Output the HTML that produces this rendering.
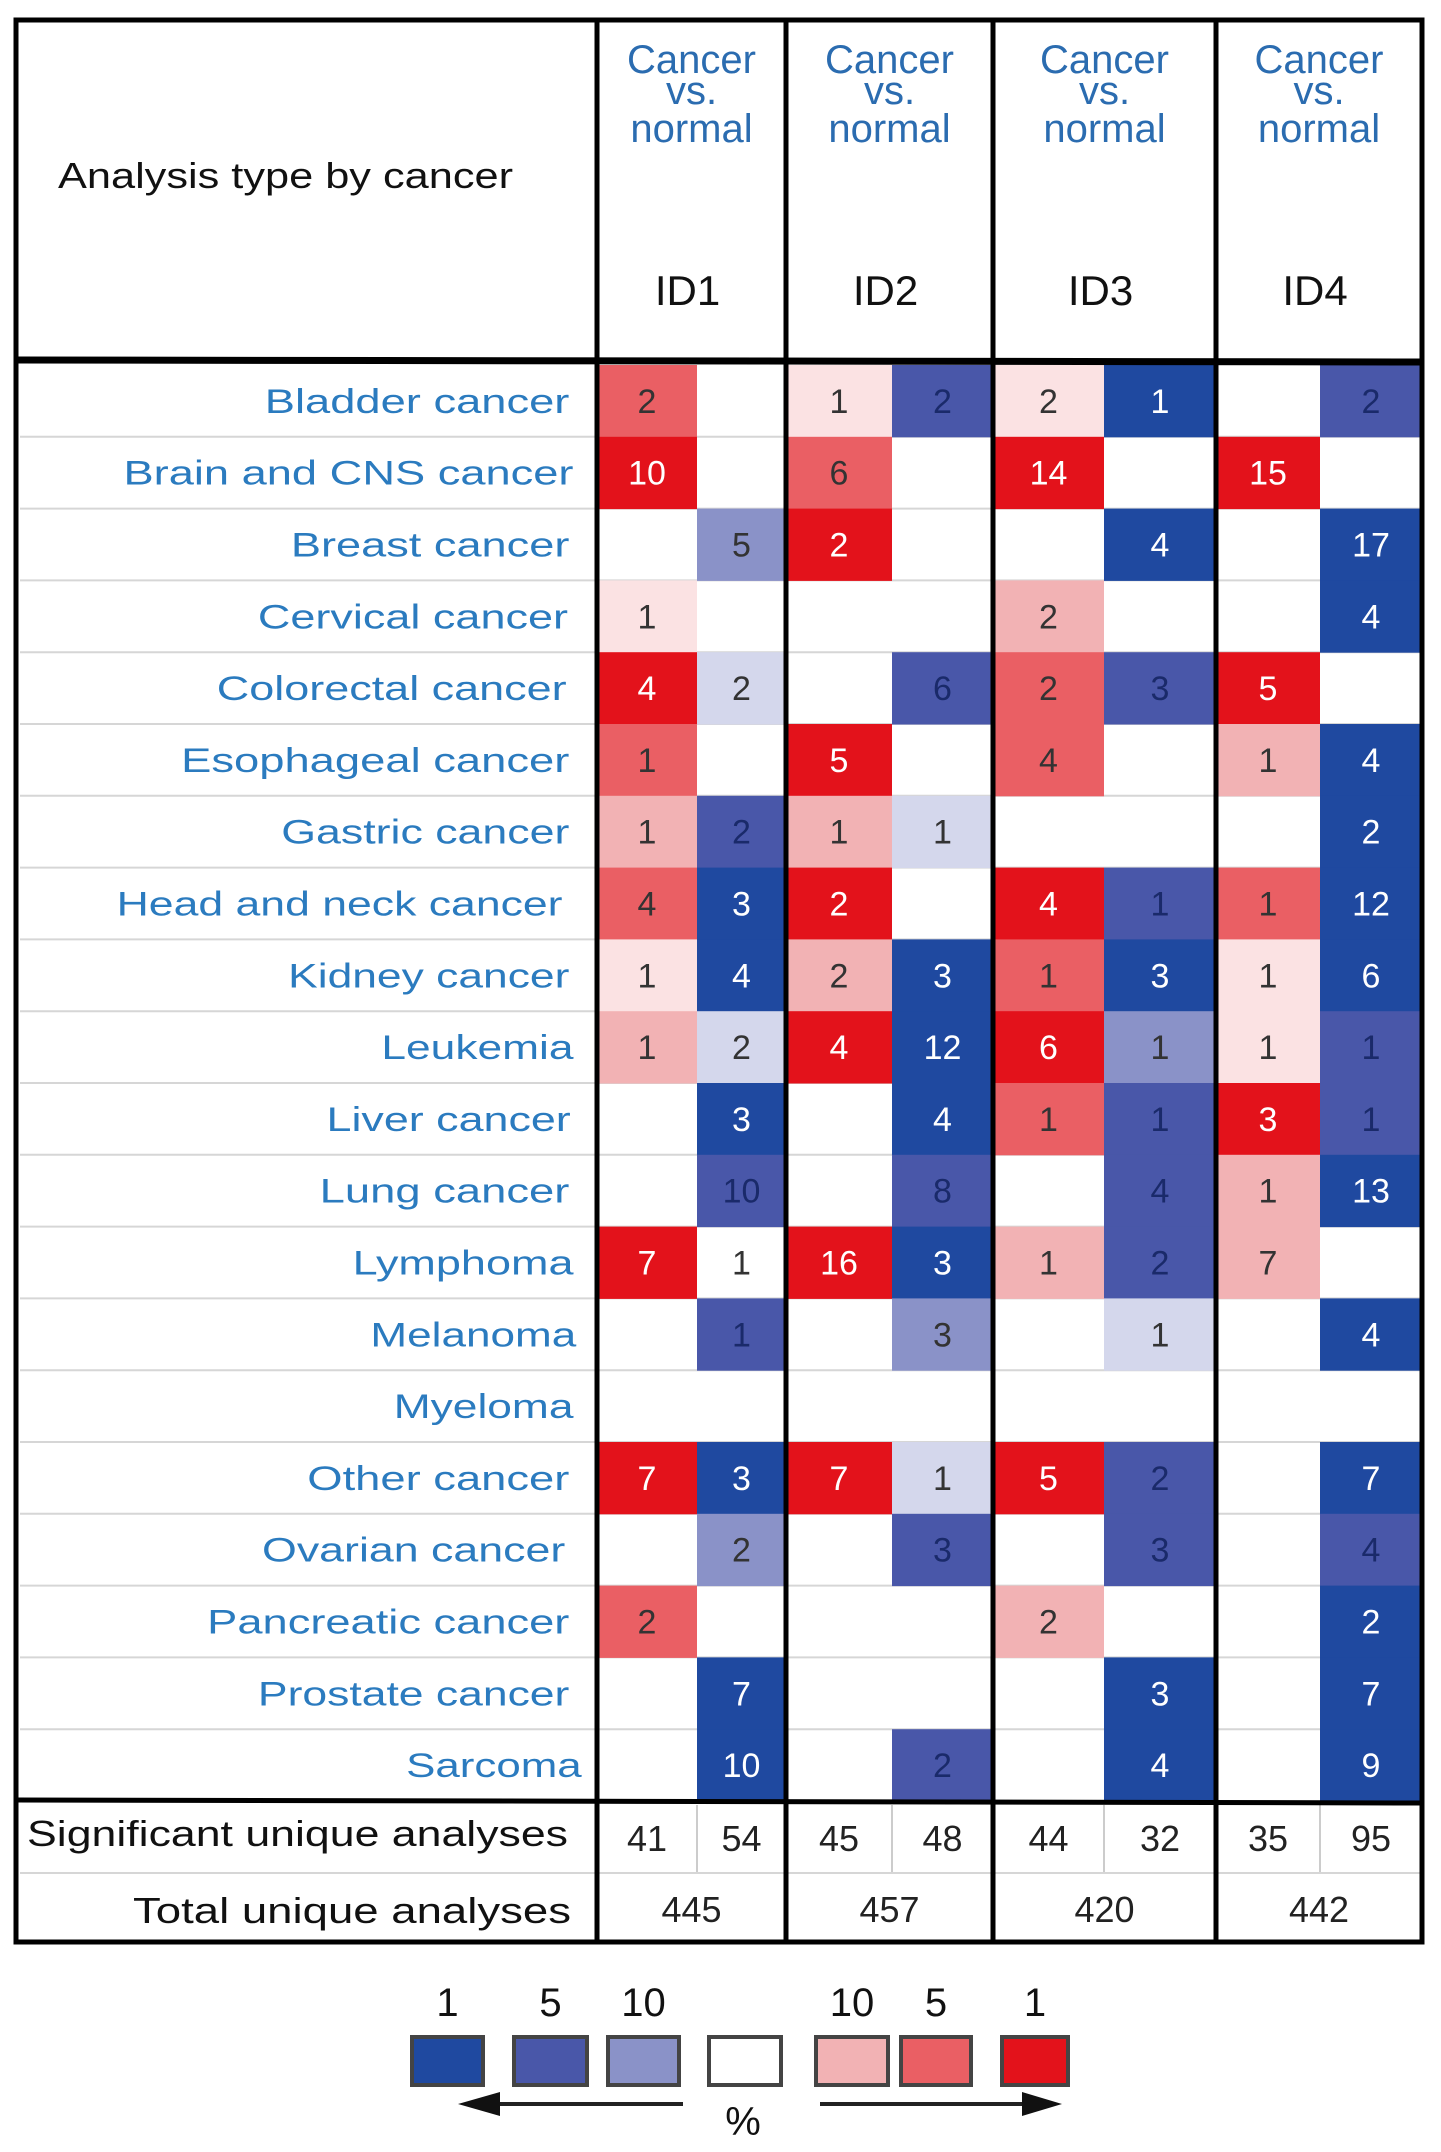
<!DOCTYPE html>
<html><head><meta charset="utf-8"><style>
html,body{margin:0;padding:0;background:#fff;}
svg{display:block;}
</style></head><body>
<svg id="chart" width="1441" height="2152" viewBox="0 0 1441 2152" xmlns="http://www.w3.org/2000/svg" font-family="Liberation Sans, sans-serif"></svg>
<script>
const cancers = ["Bladder cancer","Brain and CNS cancer","Breast cancer","Cervical cancer","Colorectal cancer","Esophageal cancer","Gastric cancer","Head and neck cancer","Kidney cancer","Leukemia","Liver cancer","Lung cancer","Lymphoma","Melanoma","Myeloma","Other cancer","Ovarian cancer","Pancreatic cancer","Prostate cancer","Sarcoma"];
const studies = ["ID1","ID2","ID3","ID4"];
// values per row: [ID1 up, ID1 down, ID2 up, ID2 down, ID3 up, ID3 down, ID4 up, ID4 down]; null = empty
const cellValues = [
[2,null,1,2,2,1,null,2],
[10,null,6,null,14,null,15,null],
[null,5,2,null,null,4,null,17],
[1,null,null,null,2,null,null,4],
[4,2,null,6,2,3,5,null],
[1,null,5,null,4,null,1,4],
[1,2,1,1,null,null,null,2],
[4,3,2,null,4,1,1,12],
[1,4,2,3,1,3,1,6],
[1,2,4,12,6,1,1,1],
[null,3,null,4,1,1,3,1],
[null,10,null,8,null,4,1,13],
[7,1,16,3,1,2,7,null],
[null,1,null,3,null,1,null,4],
[null,null,null,null,null,null,null,null],
[7,3,7,1,5,2,null,7],
[null,2,null,3,null,3,null,4],
[2,null,null,null,2,null,null,2],
[null,7,null,null,null,3,null,7],
[null,10,null,2,null,4,null,9]];
// shade level 0-4 (0 white, 4 strongest)
const cellLevels = [
[3,0,1,3,1,4,0,3],
[4,0,3,0,4,0,4,0],
[0,2,4,0,0,4,0,4],
[1,0,0,0,2,0,0,4],
[4,1,0,3,3,3,4,0],
[3,0,4,0,3,0,2,4],
[2,3,2,1,0,0,0,4],
[3,4,4,0,4,3,3,4],
[1,4,2,4,3,4,1,4],
[2,1,4,4,4,2,1,3],
[0,4,0,4,3,3,4,3],
[0,3,0,3,0,3,2,4],
[4,0,4,4,2,3,2,0],
[0,3,0,2,0,1,0,4],
[0,0,0,0,0,0,0,0],
[4,4,4,1,4,3,0,4],
[0,2,0,3,0,3,0,3],
[3,0,0,0,2,0,0,4],
[0,4,0,0,0,4,0,4],
[0,4,0,3,0,4,0,4]];
const sigUp = [41,45,44,35];
const sigDown = [54,48,32,95];
const totals = [445,457,420,442];
const legendLabels = ["1","5","10","","10","5","1"];

const RED=["#ffffff","#fbe2e3","#f2b2b4","#ea5f64","#e3121b"];
const BLUE=["#ffffff","#d4d7ec","#8a92c8","#4957a9","#1f49a0"];
const svg=document.getElementById('chart');
const NS="http://www.w3.org/2000/svg";
function mk(tag,attrs,parent){const e=document.createElementNS(NS,tag);for(const k in attrs)e.setAttribute(k,attrs[k]);(parent||svg).appendChild(e);return e;}

const colL=[597,786,993,1216], colR=[786,993,1216,1422], colS=[697,892,1104,1320];
const rowTop=365, rowH=(1801-365)/20;
function rowY(i){return rowTop+i*rowH;}
const labelLeft=[193,90,212,188,158,132,205,85,210,278,238,233,257,270,287,224,191,151,188,296];
const labelRight=[415,418,415,414,413,415,415,410,415,418,416,415,418,420,418,415,412,415,415,424];

// row separators
for(let i=1;i<=20;i++){
  const l=mk('line',{x1:20,x2:1420,y1:rowY(i),y2:rowY(i),stroke:'#d6d6d6','stroke-width':2});
  
  
}
// cells
cancers.forEach((c,i)=>{
  const t=mk('text',{x:labelRight[i]*1.372,y:rowY(i)+rowH/2+12,'text-anchor':'end','font-size':34,fill:'#2b7bbf',textLength:(labelRight[i]-labelLeft[i])*1.372,lengthAdjust:'spacingAndGlyphs'});
  t.textContent=c;
  
  
  for(let s=0;s<4;s++){
    for(let d=0;d<2;d++){
      const k=s*2+d, v=cellValues[i][k], lv=cellLevels[i][k];
      const x0=d===0?colL[s]:colS[s], x1=d===0?colS[s]:colR[s];
      if(lv>0){
        const r=mk('rect',{x:x0,y:rowY(i),width:x1-x0,height:rowH+0.5,fill:(d===0?RED:BLUE)[lv]});
        
        
      }
      if(v!==null){
        const col=lv===4?'#ffffff':(d===1&&lv===3?'#1a2a6a':'#333333');
        const tt=mk('text',{x:(x0+x1)/2,y:rowY(i)+rowH/2+12,'text-anchor':'middle','font-size':34,fill:col});
        tt.textContent=v;
        
        
      }
    }
  }
});
// header
const ht=mk('text',{x:58,y:188,'font-size':36,fill:'#111',textLength:455,lengthAdjust:'spacingAndGlyphs'});
ht.textContent='Analysis type by cancer';


studies.forEach((s,j)=>{
  const cx=(colL[j]+colR[j])/2;
  [['Cancer',73],['vs.',104],['normal',142]].forEach(([w,y])=>{
    const t=mk('text',{x:cx,y:y,'text-anchor':'middle','font-size':40,fill:'#2b6cb0'});
    t.textContent=w;
    
    
  });
  const id=mk('text',{x:cx-4,y:305,'text-anchor':'middle','font-size':42,fill:'#111'});
  id.textContent=s;
  
  
  // sig row
  [[sigUp[j],(colL[j]+colS[j])/2],[sigDown[j],(colS[j]+colR[j])/2]].forEach(([v,x])=>{
    const t=mk('text',{x:x,y:1851,'text-anchor':'middle','font-size':36,fill:'#222'});
    t.textContent=v;
    
    
  });
  const tt=mk('text',{x:cx,y:1922,'text-anchor':'middle','font-size':36,fill:'#222'});
  tt.textContent=totals[j];
  
  
  mk('line',{x1:colS[j],x2:colS[j],y1:1805,y2:1873,stroke:'#cccccc','stroke-width':2});
});
const sg=mk('text',{x:27,y:1846,'font-size':36,fill:'#111',textLength:541,lengthAdjust:'spacingAndGlyphs'});
sg.textContent='Significant unique analyses';


const tl=mk('text',{x:133,y:1923,'font-size':36,fill:'#111',textLength:438,lengthAdjust:'spacingAndGlyphs'});
tl.textContent='Total unique analyses';


mk('line',{x1:20,x2:1420,y1:1873,y2:1873,stroke:'#d6d6d6','stroke-width':2});
// borders
mk('line',{x1:16,x2:1424,y1:360,y2:362,stroke:'#000','stroke-width':7});
mk('line',{x1:16,x2:1424,y1:1800,y2:1803,stroke:'#000','stroke-width':5});
[597,786,993,1216].forEach(x=>mk('line',{x1:x,x2:x,y1:20,y2:1943,stroke:'#000','stroke-width':5}));
mk('rect',{x:16,y:20,width:1406,height:1922,fill:'none',stroke:'#000','stroke-width':5});
// legend
const lx=[412,514,608,709,816,901,1002], lw=[71,73,71,72,72,70,66];
const lc=[BLUE[4],BLUE[3],BLUE[2],'#ffffff',RED[2],RED[3],RED[4]];
lx.forEach((x,i)=>{
  const r=mk('rect',{x:x,y:2037,width:lw[i],height:48,fill:lc[i],stroke:'#444','stroke-width':4});
  
  
  if(legendLabels[i]){
    const t=mk('text',{x:x+lw[i]/2,y:2016,'text-anchor':'middle','font-size':40,fill:'#111'});
    t.textContent=legendLabels[i];
    
    
  }
});
mk('line',{x1:480,x2:683,y1:2104,y2:2104,stroke:'#222','stroke-width':4});
mk('polygon',{points:'458,2104 500,2092 500,2116',fill:'#111'});
mk('line',{x1:820,x2:1030,y1:2104,y2:2104,stroke:'#222','stroke-width':4});
mk('polygon',{points:'1062,2104 1022,2092 1022,2116',fill:'#111'});
const pc=mk('text',{x:743,y:2135,'text-anchor':'middle','font-size':40,fill:'#111'});
pc.textContent='%';


</script>
</body></html>
